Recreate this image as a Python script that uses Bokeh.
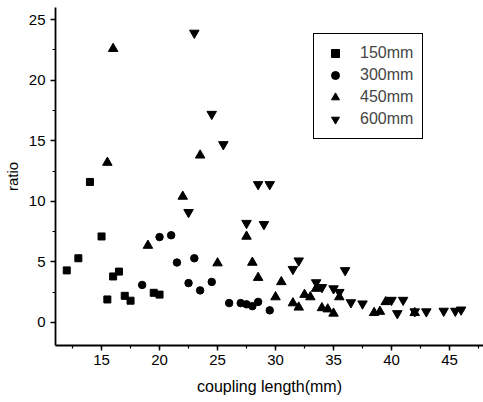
from bokeh.plotting import figure
from bokeh.models import SingleIntervalTicker, Range1d, Legend, LegendItem
from bokeh.embed import file_html
from bokeh.resources import INLINE

# ---- data ----
x150 = [12, 13, 14, 15, 15.5, 16, 16.5, 17, 17.5, 19.5, 20]
y150 = [4.3, 5.3, 11.6, 7.1, 1.9, 3.8, 4.2, 2.2, 1.8, 2.45, 2.3]

x300 = [18.5, 20, 21, 21.5, 22.5, 23, 23.5, 24.5, 26, 27, 27.5, 28, 28.5, 29.5]
y300 = [3.1, 7.05, 7.2, 4.95, 3.25, 5.3, 2.65, 3.35, 1.6, 1.6, 1.5, 1.35, 1.7, 1.0]

x450 = [15.5, 16, 19, 22, 23.5, 25, 27.5, 28, 28.5, 30, 30.5, 31.5, 32, 32.5, 33, 33.5,
        34, 34.5, 35, 35.5, 38.5, 39, 39.5, 42]
y450 = [13.2, 22.6, 6.35, 10.4, 13.8, 4.9, 7.1, 4.95, 3.7, 2.1, 3.35, 1.6, 1.25, 2.3, 2.1, 2.8,
        1.2, 1.1, 0.75, 2.1, 0.8, 0.9, 1.7, 0.8]

x600 = [22.5, 23, 24.5, 25.5, 27.5, 28.5, 29, 29.5, 31.5, 32, 33.5, 34, 35, 35.5, 36, 36.5,
        37.5, 40, 40.5, 41, 42, 43, 44.5, 45.5, 46]
y600 = [9.1, 23.9, 17.2, 14.7, 8.2, 11.4, 8.1, 11.4, 4.4, 5.1, 3.3, 2.9, 2.8, 2.5, 4.3, 1.65,
        1.55, 1.85, 0.75, 1.85, 0.9, 0.9, 0.95, 0.95, 1.05]

labels = ["150mm", "300mm", "450mm", "600mm"]
x_title = "coupling length(mm)"
y_title = "ratio"

FONT = "Liberation Sans"

p = figure(width=483, height=402, output_backend="svg", toolbar_location=None,
           x_range=Range1d(11.03, 47.93), y_range=Range1d(-1.9, 26.0),
           min_border_left=55, min_border_right=0, min_border_top=7, min_border_bottom=57)
p.outline_line_color = None
p.grid.visible = False
p.background_fill_color = "white"
p.border_fill_color = "white"

r1 = p.scatter(x150, y150, marker="square", size=7, color="black")
r2 = p.scatter(x300, y300, marker="circle", size=7.5, color="black")
r3 = p.scatter(x450, y450, marker="triangle", size=9.5, color="black")
r4 = p.scatter(x600, y600, marker="inverted_triangle", size=9.5, color="black")

for ax in (p.xaxis[0], p.yaxis[0]):
    ax.ticker = SingleIntervalTicker(interval=5, num_minor_ticks=2)
    ax.axis_line_width = 1.8
    ax.axis_line_color = "black"
    ax.major_tick_line_color = "black"
    ax.minor_tick_line_color = "black"
    ax.major_tick_line_width = 1.5
    ax.minor_tick_line_width = 1.2
    ax.major_tick_out = 5
    ax.major_tick_in = 0
    ax.minor_tick_out = 3
    ax.minor_tick_in = 0
    ax.major_label_text_font = FONT
    ax.major_label_text_font_size = "15px"
    ax.major_label_text_color = "black"
    ax.axis_label_text_font = FONT
    ax.axis_label_text_font_style = "normal"
    ax.axis_label_text_color = "black"

p.xaxis.axis_label = x_title
p.yaxis.axis_label = y_title
p.xaxis.axis_label_text_font_size = "16px"
p.yaxis.axis_label_text_font_size = "15px"
p.xaxis.major_label_standoff = 4
p.yaxis.major_label_standoff = 5
p.xaxis.axis_label_standoff = 10
p.yaxis.axis_label_standoff = 5

legend = Legend(items=[LegendItem(label=l, renderers=[r]) for l, r in zip(labels, [r1, r2, r3, r4])],
                location=(258, 206), padding=9, spacing=2, margin=0,
                glyph_width=24, glyph_height=20, label_height=20, label_standoff=13,
                label_text_font=FONT, label_text_font_size="16px",
                border_line_color="black", border_line_alpha=1.0, border_line_width=1.2,
                background_fill_color="white", background_fill_alpha=1.0)
p.add_layout(legend, "center")

open("out.html", "w").write(file_html(p, INLINE))
